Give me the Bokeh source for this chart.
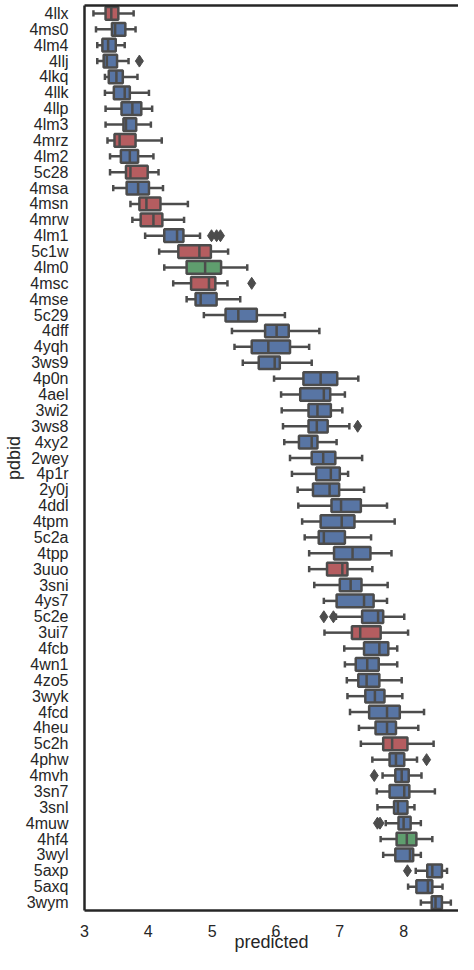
from bokeh.plotting import figure
from bokeh.models import Range1d, FactorRange, LinearAxis, ColumnDataSource, FixedTicker
from bokeh.embed import file_html
from bokeh.resources import INLINE

pdbid = ["4llx", "4ms0", "4lm4", "4llj", "4lkq", "4llk", "4llp", "4lm3", "4mrz", "4lm2",
         "5c28", "4msa", "4msn", "4mrw", "4lm1", "5c1w", "4lm0", "4msc", "4mse", "5c29",
         "4dff", "4yqh", "3ws9", "4p0n", "4ael", "3wi2", "3ws8", "4xy2", "2wey", "4p1r",
         "2y0j", "4ddl", "4tpm", "5c2a", "4tpp", "3uuo", "3sni", "4ys7", "5c2e", "3ui7",
         "4fcb", "4wn1", "4zo5", "3wyk", "4fcd", "4heu", "5c2h", "4phw", "4mvh", "3sn7",
         "3snl", "4muw", "4hf4", "3wyl", "5axp", "5axq", "3wym"]

whisker_low = [3.14, 3.18, 3.20, 3.20, 3.32, 3.32, 3.33, 3.33, 3.36, 3.40,
               3.40, 3.45, 3.72, 3.75, 3.95, 4.17, 4.25, 4.39, 4.60, 4.87,
               5.31, 5.35, 5.48, 5.97, 6.08, 6.09, 6.11, 6.13, 6.22, 6.25,
               6.34, 6.35, 6.41, 6.45, 6.52, 6.52, 6.60, 6.75, 6.94, 6.76,
               7.07, 7.08, 7.11, 7.12, 7.16, 7.30, 7.33, 7.51, 7.67, 7.58,
               7.59, 7.72, 7.64, 7.68, 8.19, 8.07, 8.27]
q1 = [3.33, 3.43, 3.28, 3.30, 3.38, 3.46, 3.58, 3.61, 3.47, 3.57,
      3.65, 3.66, 3.86, 3.88, 4.25, 4.47, 4.60, 4.67, 4.74, 5.21,
      5.83, 5.62, 5.73, 6.43, 6.38, 6.51, 6.51, 6.36, 6.56, 6.63,
      6.58, 6.87, 6.70, 6.67, 6.91, 6.80, 7.00, 6.95, 7.35, 7.19,
      7.38, 7.25, 7.29, 7.40, 7.46, 7.56, 7.68, 7.78, 7.87, 7.78,
      7.85, 7.92, 7.89, 7.87, 8.37, 8.20, 8.44]
median = [3.42, 3.48, 3.37, 3.35, 3.50, 3.63, 3.75, 3.65, 3.55, 3.71,
          3.72, 3.84, 3.97, 4.08, 4.45, 4.80, 4.89, 4.95, 4.82, 5.41,
          6.01, 5.88, 5.98, 6.70, 6.75, 6.65, 6.64, 6.56, 6.74, 6.86,
          6.84, 7.02, 7.03, 6.75, 7.20, 7.04, 7.17, 7.38, 7.60, 7.32,
          7.62, 7.43, 7.42, 7.55, 7.74, 7.74, 7.82, 7.88, 7.97, 8.01,
          7.91, 8.00, 8.05, 8.10, 8.45, 8.38, 8.50]
q3 = [3.53, 3.64, 3.49, 3.51, 3.60, 3.71, 3.89, 3.81, 3.80, 3.84,
      3.99, 4.01, 4.19, 4.22, 4.55, 4.98, 5.14, 5.05, 5.07, 5.70,
      6.20, 6.22, 6.06, 6.96, 6.85, 6.86, 6.81, 6.65, 6.93, 7.00,
      6.99, 7.33, 7.23, 7.08, 7.48, 7.12, 7.34, 7.53, 7.68, 7.64,
      7.76, 7.61, 7.62, 7.70, 7.94, 7.88, 8.06, 8.01, 8.08, 8.09,
      8.06, 8.11, 8.20, 8.15, 8.60, 8.45, 8.60]
whisker_high = [3.77, 3.80, 3.63, 3.69, 3.83, 4.01, 4.06, 4.04, 4.21, 4.08,
                4.16, 4.23, 4.62, 4.56, 4.81, 5.25, 5.55, 5.24, 5.44, 6.14,
                6.68, 6.52, 6.56, 7.29, 7.08, 7.04, 7.15, 6.95, 7.35, 7.13,
                7.38, 7.74, 7.86, 7.49, 7.81, 7.51, 7.75, 7.74, 8.01, 8.07,
                7.90, 7.90, 7.97, 7.98, 8.32, 8.23, 8.47, 8.21, 8.28, 8.49,
                8.17, 8.27, 8.45, 8.27, 8.68, 8.61, 8.74]
group = ["red", "blue", "blue", "blue", "blue", "blue", "blue", "blue", "red", "blue",
         "red", "blue", "red", "red", "blue", "red", "green", "red", "blue", "blue",
         "blue", "blue", "blue", "blue", "blue", "blue", "blue", "blue", "blue", "blue",
         "blue", "blue", "blue", "blue", "blue", "red", "blue", "blue", "blue", "red",
         "blue", "blue", "blue", "blue", "blue", "blue", "red", "blue", "blue", "blue",
         "blue", "blue", "green", "blue", "blue", "blue", "blue"]

outlier_pdbid = ["4llj", "4lm1", "4lm1", "4lm1", "4msc", "3ws8", "5c2e", "5c2e",
                 "4phw", "4mvh", "4muw", "4muw", "5axp"]
outlier_value = [3.86, 4.99, 5.07, 5.13, 5.62, 7.28, 6.75, 6.90,
                 8.36, 7.54, 7.59, 7.63, 8.06]

x_ticks = [3, 4, 5, 6, 7, 8, 9]

palette = {"blue": "#5875a4", "red": "#b55d60", "green": "#5f9e6e"}
edge = "#4c4c4c"
dark = "#262626"
font = "Liberation Sans"

src = ColumnDataSource(dict(
    cat=pdbid, wl=whisker_low, q1=q1, med=median, q3=q3, wh=whisker_high,
    color=[palette[g] for g in group],
))

p = figure(width=458, height=954, output_backend="svg", toolbar_location=None,
           y_range=FactorRange(*reversed(pdbid), range_padding=0),
           x_range=Range1d(3, 8.86),
           min_border_left=84, min_border_top=5, min_border_right=0, min_border_bottom=0)
p.outline_line_color = None
p.xgrid.visible = False
p.ygrid.visible = False
p.background_fill_color = "white"
p.border_fill_color = "white"

lw = 2.5
p.segment(x0="wl", y0="cat", x1="q1", y1="cat", source=src, line_color=edge, line_width=lw)
p.segment(x0="q3", y0="cat", x1="wh", y1="cat", source=src, line_color=edge, line_width=lw)
p.hbar(y="cat", left="wl", right="wl", height=0.4, source=src, line_color=edge,
       line_width=lw, fill_color=None, line_cap="round")
p.hbar(y="cat", left="wh", right="wh", height=0.4, source=src, line_color=edge,
       line_width=lw, fill_color=None, line_cap="round")
p.hbar(y="cat", left="q1", right="q3", height=0.8, source=src, fill_color="color",
       line_color=edge, line_width=lw)
p.hbar(y="cat", left="med", right="med", height=0.8, source=src, fill_color=None,
       line_color=edge, line_width=lw)
p.scatter(x=outlier_value, y=outlier_pdbid, marker="diamond", size=12,
          fill_color=edge, line_color=edge, line_width=1)

for ax in (p.xaxis[0], p.yaxis[0]):
    ax.axis_line_color = dark
    ax.axis_line_width = lw
    ax.major_tick_line_color = None
    ax.minor_tick_line_color = None
    ax.major_label_text_font = font
    ax.major_label_text_font_size = "16px"
    ax.major_label_text_color = dark
    ax.axis_label_text_font = font
    ax.axis_label_text_font_size = "18px"
    ax.axis_label_text_font_style = "normal"
    ax.axis_label_text_color = dark

p.xaxis.ticker = FixedTicker(ticks=x_ticks)
p.xaxis.axis_label = "predicted"
p.xaxis.major_label_standoff = 8
p.xaxis.axis_label_standoff = -8
p.yaxis.axis_label = "pdbid"
p.yaxis.major_label_standoff = 10
p.yaxis.axis_label_standoff = -1

top = LinearAxis(major_label_text_font_size="0px", major_tick_line_color=None,
                 minor_tick_line_color=None, axis_line_color=dark, axis_line_width=lw,
                 major_label_standoff=0, ticker=FixedTicker(ticks=[]))
p.add_layout(top, "above")

open("out.html", "w").write(file_html(p, INLINE))
